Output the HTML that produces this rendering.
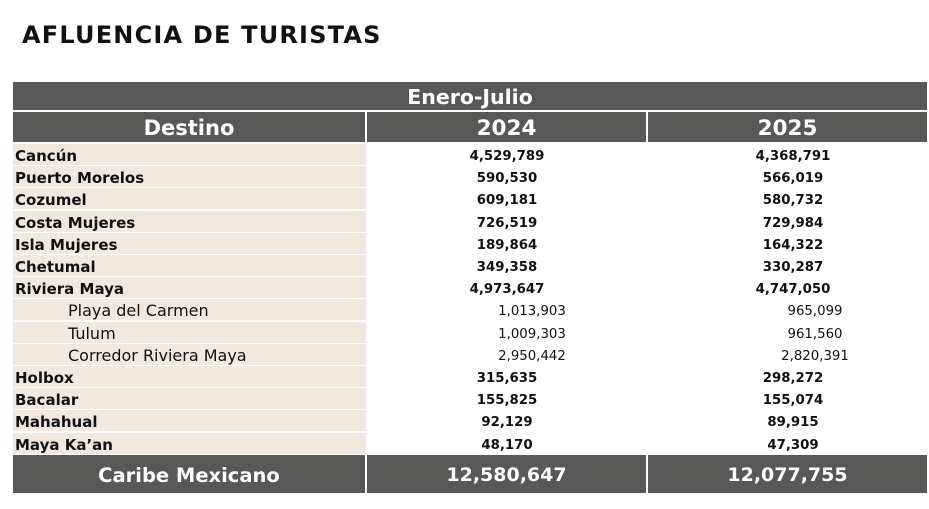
<!DOCTYPE html>
<html><head><meta charset="utf-8"><style>
body{margin:0;width:929px;height:509px;background:#fff;position:relative;overflow:hidden;font-family:"DejaVu Sans","Liberation Sans",sans-serif;}
.a{position:absolute;}
.t{left:22px;top:21px;font-size:24px;font-weight:bold;color:#111;letter-spacing:1.2px;}
.d{background:#585857;color:#fff;font-weight:bold;text-align:center;}
.r{position:absolute;left:13px;width:353px;height:21px;background:#f3e8de;}
.n{position:absolute;font-size:15px;color:#111;white-space:nowrap;}
.b{font-weight:bold;}
.c{transform:translateX(-50%);font-size:13.3px;}
</style></head><body>
<div class="a t">AFLUENCIA DE TURISTAS</div>
<div class="a d" style="left:13px;top:82px;width:914px;height:28px;line-height:30px;font-size:20.5px;">Enero-Julio</div>
<div class="a d" style="left:13px;top:112px;width:352px;height:30px;line-height:33px;font-size:21px;">Destino</div>
<div class="a d" style="left:367px;top:112px;width:279px;height:30px;line-height:33px;font-size:21.5px;">2024</div>
<div class="a d" style="left:648px;top:112px;width:279px;height:30px;line-height:33px;font-size:21.5px;">2025</div>
<div id="rows"></div>
<div class="a d" style="left:13px;top:455px;width:352px;height:38px;line-height:41px;font-size:19.5px;">Caribe Mexicano</div>
<div class="a d" style="left:367px;top:455px;width:279px;height:38px;line-height:41px;font-size:19px;">12,580,647</div>
<div class="a d" style="left:648px;top:455px;width:279px;height:38px;line-height:41px;font-size:19px;">12,077,755</div>
<script>
var d=[["Cancún","4,529,789","4,368,791",1],["Puerto Morelos","590,530","566,019",1],["Cozumel","609,181","580,732",1],["Costa Mujeres","726,519","729,984",1],["Isla Mujeres","189,864","164,322",1],["Chetumal","349,358","330,287",1],["Riviera Maya","4,973,647","4,747,050",1],["Playa del Carmen","1,013,903","965,099",0],["Tulum","1,009,303","961,560",0],["Corredor Riviera Maya","2,950,442","2,820,391",0],["Holbox","315,635","298,272",1],["Bacalar","155,825","155,074",1],["Mahahual","92,129","89,915",1],["Maya Ka’an","48,170","47,309",1]];
var h="";
d.forEach(function(r,i){var y=144+i*22.2;
h+='<div class="r" style="top:'+y+'px"></div>';
var b=r[3]?' b':'';
h+='<div class="n'+b+'" style="left:'+(r[3]?15:68)+'px;top:'+(y+3)+'px;'+(r[3]?'':'font-size:16px;top:'+(y+2)+'px;')+'">'+r[0]+'</div>';
h+='<div class="n c'+b+'" style="left:'+(r[3]?507:532)+'px;top:'+(y+5)+'px">'+r[1]+'</div>';
h+='<div class="n c'+b+'" style="left:'+(r[3]?793:815)+'px;top:'+(y+5)+'px">'+r[2]+'</div>';});
document.getElementById("rows").innerHTML=h;
</script>
</body></html>
